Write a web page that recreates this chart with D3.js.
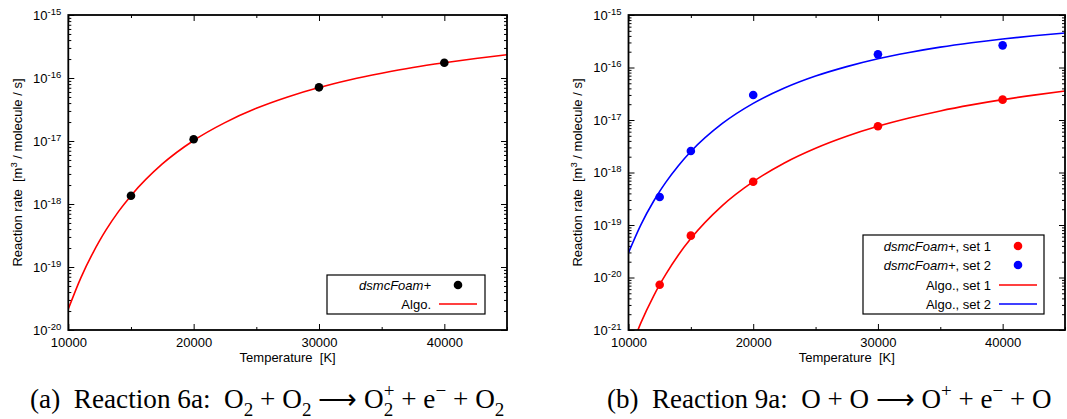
<!DOCTYPE html>
<html>
<head>
<meta charset="utf-8">
<script src="https://cdn.jsdelivr.net/npm/d3@7"></script>
<style>
  body { margin: 0; background: #fff; }
  svg { display: block; }
  text { font-family: "Liberation Sans", Arial, Helvetica, sans-serif; fill: #000; }
</style>
</head>
<body>
<svg id="chart" width="1067" height="419"></svg>
<script>
// ---- data -------------------------------------------------------------
// temperatures at which the fitted rate curves are tabulated [K]
const curveTemps = [10000, 11000, 12000, 12500, 13000, 14000, 15000, 17500, 20000, 22500,
                    25000, 27500, 30000, 32500, 35000, 37500, 40000, 42500, 45000];

// Reaction 6a: O2 + O2 -> O2+ + e- + O2
const simTemps6a = [15000, 20000, 30000, 40000];
const sim6a = [1.355e-18, 1.065e-17, 7.11e-17, 1.75e-16];
const algo6a = [2.15e-20, 6.73e-20, 1.73e-19, 2.62e-19, 3.84e-19, 7.56e-19, 1.355e-18, 4.32e-18,
                1.02e-17, 1.96e-17, 3.30e-17, 5.00e-17, 7.05e-17, 9.37e-17, 1.19e-16, 1.47e-16,
                1.75e-16, 2.04e-16, 2.34e-16];

// Reaction 9a: O + O -> O+ + e- + O
const simTemps9a = [12500, 15000, 20000, 30000, 40000];
const sim9aSet1 = [7.3e-21, 6.27e-20, 6.68e-19, 7.59e-18, 2.44e-17];
const sim9aSet2 = [3.41e-19, 2.57e-18, 2.99e-17, 1.78e-16, 2.64e-16];
const algo9aSet1 = [3.41e-22, 1.38e-21, 4.38e-21, 7.30e-21, 1.16e-20, 2.69e-20, 5.51e-20, 2.31e-19,
                    6.68e-19, 1.52e-18, 2.90e-18, 4.91e-18, 7.59e-18, 1.09e-17, 1.49e-17, 1.94e-17,
                    2.44e-17, 2.98e-17, 3.56e-17];
const algo9aSet2 = [2.97e-20, 1.02e-19, 2.80e-19, 4.37e-19, 6.56e-19, 1.35e-18, 2.51e-18, 8.49e-18,
                    2.07e-17, 4.06e-17, 6.87e-17, 1.04e-16, 1.47e-16, 1.93e-16, 2.44e-16, 2.96e-16,
                    3.49e-16, 4.02e-16, 4.53e-16];

// axis ticks
const xTicks = [10000, 20000, 30000, 40000];
const xMinorTicks = [15000, 25000, 35000, 45000];
const yExpA = [-20, -19, -18, -17, -16, -15];
const yExpB = [-21, -20, -19, -18, -17, -16, -15];

// legend entries
const legendA = [
  { italic: "dsmcFoam+", plain: "", kind: "dot", color: "#000000" },
  { italic: "", plain: "Algo.", kind: "line", color: "#ff0000" }
];
const legendB = [
  { italic: "dsmcFoam+", plain: ", set 1", kind: "dot", color: "#ff0000" },
  { italic: "dsmcFoam+", plain: ", set 2", kind: "dot", color: "#0000ff" },
  { italic: "", plain: "Algo., set 1", kind: "line", color: "#ff0000" },
  { italic: "", plain: "Algo., set 2", kind: "line", color: "#0000ff" }
];

// ---- drawing ----------------------------------------------------------
const svg = d3.select("#chart");

function drawPanel(cfg) {
  const x = d3.scaleLinear().domain([10000, 45000]).range([cfg.x0, cfg.x1]);
  const y = d3.scaleLog().domain([Math.pow(10, cfg.exps[0]), Math.pow(10, cfg.exps[cfg.exps.length - 1])])
              .range([cfg.y1, cfg.y0]);
  const g = svg.append("g");

  const majors = cfg.exps.map(e => Math.pow(10, e));
  const minors = [];
  for (let i = 0; i < cfg.exps.length - 1; i++)
    for (let m = 2; m <= 9; m++) minors.push(m * Math.pow(10, cfg.exps[i]));

  const styleAxis = sel => {
    sel.select(".domain").remove();
    sel.selectAll(".tick line").attr("stroke", "#000").attr("stroke-width", 1);
  };

  // left axis with labels 10^n
  const left = g.append("g").attr("transform", `translate(${cfg.x0},0)`)
    .call(d3.axisLeft(y).tickValues(majors).tickSizeInner(-6).tickSizeOuter(0).tickPadding(7));
  styleAxis(left);
  left.selectAll(".tick text").each(function (d) {
    const t = d3.select(this).text(null).style("font-size", "13px");
    t.append("tspan").text("10");
    t.append("tspan").attr("dy", "-5").style("font-size", "9.5px")
      .text(String(Math.round(Math.log10(d))).replace("-", "-"));
  });
  g.append("g").attr("transform", `translate(${cfg.x0},0)`)
    .call(d3.axisLeft(y).tickValues(minors).tickSizeInner(-3).tickSizeOuter(0).tickFormat(""))
    .call(styleAxis);
  // mirrored right axis
  g.append("g").attr("transform", `translate(${cfg.x1},0)`)
    .call(d3.axisRight(y).tickValues(majors).tickSizeInner(-6).tickSizeOuter(0).tickFormat(""))
    .call(styleAxis);
  g.append("g").attr("transform", `translate(${cfg.x1},0)`)
    .call(d3.axisRight(y).tickValues(minors).tickSizeInner(-3).tickSizeOuter(0).tickFormat(""))
    .call(styleAxis);

  // bottom axis
  const bottom = g.append("g").attr("transform", `translate(0,${cfg.y1})`)
    .call(d3.axisBottom(x).tickValues(xTicks).tickSizeInner(-6).tickSizeOuter(0).tickPadding(8)
          .tickFormat(d3.format("d")));
  styleAxis(bottom);
  bottom.selectAll(".tick text").style("font-size", "13px");
  g.append("g").attr("transform", `translate(0,${cfg.y1})`)
    .call(d3.axisBottom(x).tickValues(xMinorTicks).tickSizeInner(-3).tickSizeOuter(0).tickFormat(""))
    .call(styleAxis);
  // mirrored top axis
  g.append("g").attr("transform", `translate(0,${cfg.y0})`)
    .call(d3.axisTop(x).tickValues(xTicks).tickSizeInner(-6).tickSizeOuter(0).tickFormat(""))
    .call(styleAxis);
  g.append("g").attr("transform", `translate(0,${cfg.y0})`)
    .call(d3.axisTop(x).tickValues(xMinorTicks).tickSizeInner(-3).tickSizeOuter(0).tickFormat(""))
    .call(styleAxis);

  // clip for curves
  const clipId = "clip-" + cfg.id;
  svg.append("clipPath").attr("id", clipId).append("rect")
    .attr("x", cfg.x0).attr("y", cfg.y0).attr("width", cfg.x1 - cfg.x0).attr("height", cfg.y1 - cfg.y0);

  const line = d3.line().x(d => x(d[0])).y(d => y(d[1])).curve(d3.curveMonotoneX);
  const plot = g.append("g").attr("clip-path", `url(#${clipId})`);
  cfg.curves.forEach(c => {
    plot.append("path").datum(d3.zip(curveTemps, c.values))
      .attr("d", line).attr("fill", "none").attr("stroke", c.color).attr("stroke-width", 1.6);
  });
  cfg.points.forEach(p => {
    plot.selectAll(null).data(d3.zip(p.temps, p.values)).join("circle")
      .attr("cx", d => x(d[0])).attr("cy", d => y(d[1])).attr("r", 4.3).attr("fill", p.color);
  });

  // border
  g.append("rect").attr("x", cfg.x0).attr("y", cfg.y0)
    .attr("width", cfg.x1 - cfg.x0).attr("height", cfg.y1 - cfg.y0)
    .attr("fill", "none").attr("stroke", "#000").attr("stroke-width", 1.8);

  // axis titles
  const yl = g.append("text").attr("transform", `translate(${cfg.yLabelX},${(cfg.y0 + cfg.y1) / 2}) rotate(-90)`)
    .attr("text-anchor", "middle").style("font-size", "13px").style("white-space", "pre");
  yl.append("tspan").text("Reaction rate  [m");
  yl.append("tspan").attr("dy", -5).style("font-size", "9.5px").text("3");
  yl.append("tspan").attr("dy", 5).text(" / molecule / s]");
  g.append("text").attr("x", (cfg.x0 + cfg.x1) / 2).attr("y", 362).attr("text-anchor", "middle")
    .style("font-size", "13px").style("white-space", "pre").text("Temperature  [K]");

  // legend
  const L = cfg.legend;
  g.append("rect").attr("x", L.x0).attr("y", L.y0).attr("width", L.x1 - L.x0).attr("height", L.y1 - L.y0)
    .attr("fill", "#fff").attr("stroke", "#000").attr("stroke-width", 1.2);
  L.entries.forEach((e, i) => {
    const ry = L.rowY[i];
    const t = g.append("text").attr("x", L.textX).attr("y", ry + 4.5).attr("text-anchor", "end")
      .style("font-size", "13px").style("white-space", "pre");
    if (e.italic) t.append("tspan").style("font-style", "italic").text(e.italic);
    if (e.plain) t.append("tspan").text(e.plain);
    if (e.kind === "dot") {
      g.append("circle").attr("cx", L.dotX).attr("cy", ry).attr("r", 4.3).attr("fill", e.color);
    } else {
      g.append("line").attr("x1", L.lineX0).attr("x2", L.lineX1).attr("y1", ry).attr("y2", ry)
        .attr("stroke", e.color).attr("stroke-width", 1.6);
    }
  });
}

drawPanel({
  id: "a", x0: 68.3, x1: 507, y0: 15, y1: 330, exps: yExpA, yLabelX: 22,
  curves: [{ values: algo6a, color: "#ff0000" }],
  points: [{ temps: simTemps6a, values: sim6a, color: "#000000" }],
  legend: { x0: 327, x1: 485, y0: 275, y1: 314, rowY: [285, 304], textX: 431, dotX: 458,
            lineX0: 439, lineX1: 477, entries: legendA }
});

drawPanel({
  id: "b", x0: 628.5, x1: 1065, y0: 15, y1: 330, exps: yExpB, yLabelX: 582,
  curves: [{ values: algo9aSet1, color: "#ff0000" }, { values: algo9aSet2, color: "#0000ff" }],
  points: [{ temps: simTemps9a, values: sim9aSet1, color: "#ff0000" },
           { temps: simTemps9a, values: sim9aSet2, color: "#0000ff" }],
  legend: { x0: 863, x1: 1044, y0: 235, y1: 314, rowY: [246, 265, 285, 304], textX: 991, dotX: 1018,
            lineX0: 999, lineX1: 1037, entries: legendB }
});

// ---- sub-figure captions ---------------------------------------------
function buildCaption(x, baseline, parts, fs) {
  const t = svg.append("text").attr("x", x).attr("y", baseline)
    .style("font-family", "'Liberation Serif','Times New Roman',serif")
    .style("font-size", fs + "px").style("white-space", "pre");
  const small = (0.7 * fs) + "px";
  parts.forEach(p => {
    if (p[1] === "n") t.append("tspan").attr("y", baseline).text(p[0]);
    else if (p[1] === "sub") t.append("tspan").attr("y", baseline + 0.3 * fs).style("font-size", small).text(p[0]);
    else if (p[1] === "sup") t.append("tspan").attr("y", baseline - 0.42 * fs).style("font-size", small).text(p[0]);
    else if (p[1] === "subsup") {
      const s = t.append("tspan").attr("y", baseline + 0.3 * fs).style("font-size", small).text(p[0]);
      const w = s.node().getComputedTextLength();
      t.append("tspan").attr("y", baseline - 0.42 * fs).attr("dx", -w).style("font-size", small).text(p[2]);
    }
  });
  return t;
}
function caption(x, baseline, parts, width) {
  const probe = buildCaption(x, baseline, parts, 20);
  const w = probe.node().getBBox().width;
  probe.remove();
  buildCaption(x, baseline, parts, 20 * width / w);
}

caption(30, 408, [["(a)  Reaction 6a:  O", "n"], ["2", "sub"], [" + O", "n"], ["2", "sub"], [" \u27F6 O", "n"],
                  ["2", "subsup", "+"], [" + e", "n"], ["\u2212", "sup"], [" + O", "n"], ["2", "sub"]], 475);
caption(607, 408, [["(b)  Reaction 9a:  O + O \u27F6 O", "n"], ["+", "sup"], [" + e", "n"], ["\u2212", "sup"],
                   [" + O", "n"]], 445);
</script>
</body>
</html>
